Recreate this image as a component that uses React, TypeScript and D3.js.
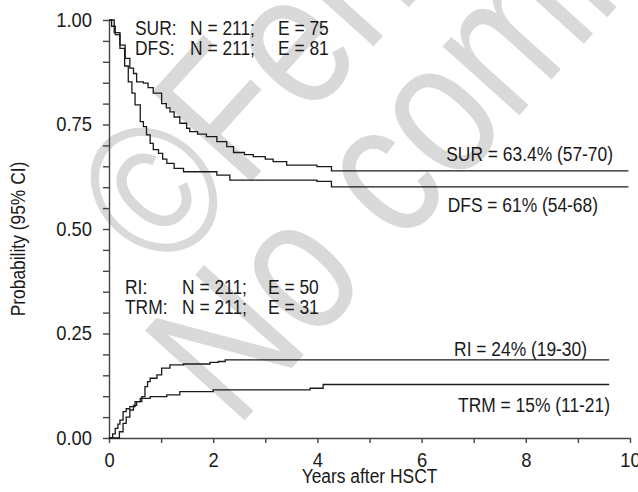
import * as d3 from "d3";
import { useEffect, useRef } from "react";

// Kaplan-Meier / cumulative incidence step points
const surTime = [0, 0.05, 0.12, 0.21, 0.31, 0.4, 0.47, 0.53, 0.66, 0.75, 0.85, 1.01, 1.1, 1.17, 1.25, 1.36, 1.49, 1.55, 1.7, 1.87, 2.07, 2.26, 2.39, 2.6, 2.77, 3.0, 3.15, 3.41, 3.99, 4.27, 9.97];
const surValue = [1, 0.985, 0.965, 0.94, 0.908, 0.885, 0.872, 0.852, 0.849, 0.838, 0.825, 0.8, 0.79, 0.78, 0.768, 0.753, 0.741, 0.733, 0.727, 0.721, 0.709, 0.697, 0.683, 0.678, 0.673, 0.667, 0.661, 0.653, 0.649, 0.639, 0.639];

const dfsTime = [0, 0.1, 0.21, 0.3, 0.37, 0.44, 0.5, 0.6, 0.66, 0.72, 0.79, 0.85, 0.95, 1.03, 1.11, 1.25, 1.43, 2.07, 2.32, 3.99, 4.27, 9.97];
const dfsValue = [1, 0.97, 0.932, 0.89, 0.852, 0.825, 0.797, 0.757, 0.745, 0.725, 0.705, 0.69, 0.681, 0.667, 0.657, 0.645, 0.637, 0.629, 0.617, 0.614, 0.601, 0.601];

const riTime = [0, 0.15, 0.2, 0.27, 0.33, 0.4, 0.47, 0.53, 0.63, 0.69, 0.74, 0.79, 0.92, 1.01, 1.17, 1.43, 1.94, 2.1, 2.23, 9.6];
const riValue = [0, 0, 0.015, 0.035, 0.05, 0.067, 0.078, 0.087, 0.099, 0.123, 0.135, 0.143, 0.151, 0.167, 0.175, 0.177, 0.181, 0.183, 0.187, 0.187];

const trmTime = [0, 0.02, 0.07, 0.12, 0.17, 0.21, 0.27, 0.33, 0.4, 0.5, 0.6, 0.79, 1.11, 1.36, 2.0, 3.86, 4.11, 9.6];
const trmValue = [0, 0, 0.01, 0.023, 0.033, 0.043, 0.063, 0.07, 0.075, 0.087, 0.095, 0.099, 0.103, 0.111, 0.115, 0.119, 0.128, 0.128];

const yTicks = d3.range(0, 1.0001, 0.05);
const xTicks = d3.range(0, 11, 1);

const topStats = [
  ["SUR:", "N = 211;", "E = 75"],
  ["DFS:", "N = 211;", "E = 81"],
];
const bottomStats = [
  ["RI:", "N = 211;", "E = 50"],
  ["TRM:", "N = 211;", "E = 31"],
];

const endLabels = [
  "SUR = 63.4% (57-70)",
  "DFS = 61% (54-68)",
  "RI = 24% (19-30)",
  "TRM = 15% (11-21)",
];

const watermark = ["©Ferrata Storti Foundation", "No commercial use"];

export default function App() {
  const svgRef = useRef<SVGSVGElement | null>(null);

  useEffect(() => {
    if (!svgRef.current) return;
    const svg = d3.select(svgRef.current);
    svg.selectAll("*").remove();

    const width = 638;
    const height = 492;
    const margin = { top: 20, right: 8, bottom: 54, left: 109 };
    const font = "'Liberation Sans', Arial, sans-serif";
    const squeeze = 0.87; // the original uses a condensed face
    const ink = "#1a1a1a";
    const axisColor = "#444";

    const x = d3.scaleLinear().domain([0, 10]).range([margin.left, 630]);
    const y = d3.scaleLinear().domain([0, 1]).range([height - margin.bottom, margin.top]);

    svg.attr("width", width).attr("height", height).attr("viewBox", `0 0 ${width} ${height}`);

    // condensed text helper
    const label = (
      g: d3.Selection<any, unknown, null, undefined>,
      tx: number,
      ty: number,
      s: string,
      anchor = "start",
      size = 20
    ) =>
      g
        .append("text")
        .attr("transform", `translate(${tx},${ty}) scale(${squeeze},1)`)
        .attr("text-anchor", anchor)
        .attr("fill", ink)
        .style("font-family", font)
        .style("font-size", `${size}px`)
        .text(s);

    // faint watermark behind everything
    const wm = svg
      .append("g")
      .attr("fill", "#d9d9d9")
      .style("font-family", font)
      .style("font-size", "195px");
    wm.append("text").attr("transform", "translate(165,278) rotate(-48) scale(0.81,1)").text(watermark[0]);
    wm.append("text").attr("transform", "translate(236,430) rotate(-48) scale(0.81,1)").text(watermark[1]);

    // y axis
    const yAxis = svg
      .append("g")
      .attr("transform", `translate(${margin.left},0)`)
      .call(
        d3
          .axisLeft(y)
          .tickValues(yTicks)
          .tickSize(6)
          .tickSizeOuter(0)
          .tickPadding(11)
          .tickFormat((d) => {
            const v = Math.round((d as number) * 100);
            return v % 25 === 0 ? d3.format(".2f")(d as number) : "";
          })
      );

    // x axis
    const xAxis = svg
      .append("g")
      .attr("transform", `translate(0,${y(0)})`)
      .call(
        d3
          .axisBottom(x)
          .tickValues(xTicks)
          .tickSize(5)
          .tickSizeOuter(0)
          .tickPadding(10)
          .tickFormat((d) => ((d as number) % 2 === 0 ? String(d) : ""))
      );

    [xAxis, yAxis].forEach((g) => {
      g.selectAll("path, line").attr("stroke", axisColor).attr("stroke-width", 1.4);
      g.selectAll<SVGTextElement, unknown>(".tick text").each(function () {
        const t = d3.select(this);
        const x0 = +(t.attr("x") || 0);
        t.attr("x", 0)
          .attr("transform", `translate(${x0},0) scale(0.92,1)`)
          .attr("fill", ink)
          .style("font-family", font)
          .style("font-size", "20px");
      });
    });

    // axis titles
    label(svg, x(5), 483, "Years after HSCT", "middle");
    svg
      .append("text")
      .attr("transform", `translate(25,239) rotate(-90) scale(${squeeze},1)`)
      .attr("text-anchor", "middle")
      .attr("fill", ink)
      .style("font-family", font)
      .style("font-size", "20px")
      .text("Probability (95% CI)");

    // curves
    const line = d3
      .line<[number, number]>()
      .x((d) => x(d[0]))
      .y((d) => y(d[1]))
      .curve(d3.curveStepAfter);

    const series: [number[], number[]][] = [
      [surTime, surValue],
      [dfsTime, dfsValue],
      [riTime, riValue],
      [trmTime, trmValue],
    ];

    svg
      .append("g")
      .selectAll("path")
      .data(series)
      .join("path")
      .attr("d", ([t, v]) => line(t.map((ti, i) => [ti, v[i]] as [number, number])))
      .attr("fill", "none")
      .attr("stroke", ink)
      .attr("stroke-width", 1.3);

    // N / E stats
    const statCols = [135, 190, 278];
    const statColsB = [125, 182, 268];
    const stats = svg.append("g");
    topStats.forEach((row, r) =>
      row.forEach((s, c) => label(stats, statCols[c], 35 + r * 20, s))
    );
    bottomStats.forEach((row, r) =>
      row.forEach((s, c) => label(stats, statColsB[c], 294 + r * 20, s))
    );

    // end-of-curve estimates
    const endPos = [
      [613, 161],
      [598, 212],
      [587, 356],
      [610, 412],
    ];
    const ends = svg.append("g");
    endLabels.forEach((s, i) => label(ends, endPos[i][0], endPos[i][1], s, "end"));
  }, []);

  return <svg ref={svgRef} style={{ position: "absolute", left: 0, top: 0, display: "block" }}></svg>;
}
